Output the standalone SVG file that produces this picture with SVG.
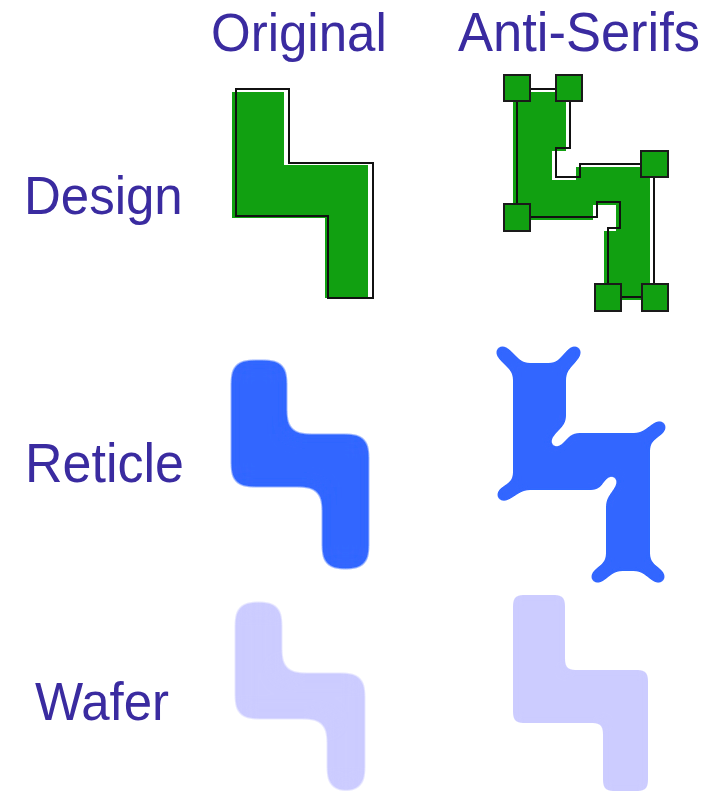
<svg xmlns="http://www.w3.org/2000/svg" width="716" height="803" viewBox="0 0 716 803">
  <style>
    .label { font-family: "Liberation Sans", Arial, sans-serif; font-size: 51px; fill: #3a2ba0; }
    .design-fill { fill: #11a011; }
    .design-line { fill: none; stroke: #111; stroke-width: 2; stroke-linejoin: miter; }
    .serif { fill: #11a011; stroke: #1a1a1a; stroke-width: 2; }
    .reticle { fill: #3366ff; }
    .reticle-ear { stroke: #3366ff; stroke-width: 14; stroke-linecap: round; fill: none; }
    .bite { stroke: #000; stroke-width: 12; stroke-linecap: round; fill: none; }
    .wafer { fill: #ccccff; }
  </style>
  <defs>
    <!-- blur + alpha threshold: rounds the printed shapes -->
    <filter id="soft10" filterUnits="userSpaceOnUse" x="0" y="0" width="716" height="803">
      <feGaussianBlur stdDeviation="10"/>
      <feComponentTransfer><feFuncA type="linear" slope="12" intercept="-5.5"/></feComponentTransfer>
    </filter>
    <filter id="soft5" filterUnits="userSpaceOnUse" x="0" y="0" width="716" height="803">
      <feGaussianBlur stdDeviation="5"/>
      <feComponentTransfer><feFuncA type="linear" slope="12" intercept="-5.5"/></feComponentTransfer>
    </filter>
    <filter id="soft4" filterUnits="userSpaceOnUse" x="0" y="0" width="716" height="803">
      <feGaussianBlur stdDeviation="4"/>
      <feComponentTransfer><feFuncA type="linear" slope="12" intercept="-5.5"/></feComponentTransfer>
    </filter>
    <!-- inward bites at the two concave corners of the anti-serif reticle -->
    <mask id="reticle-bites" maskUnits="userSpaceOnUse" x="0" y="0" width="716" height="803">
      <rect width="716" height="803" fill="#fff"/>
      <line class="bite" x1="568" y1="429" x2="556" y2="442"/>
      <line class="bite" x1="603" y1="494" x2="612" y2="481"/>
    </mask>
  </defs>

  <rect width="716" height="803" fill="#ffffff"/>

  <!-- column and row headings -->
  <g id="labels">
    <text class="label" transform="translate(211,51) scale(1,1.05)">Original</text>
    <text class="label" transform="translate(458,51) scale(1,1.05)" style="font-size:52.5px">Anti-Serifs</text>
    <text class="label" transform="translate(24,214) scale(1,1.05)">Design</text>
    <text class="label" transform="translate(25,482) scale(1,1.05)" style="font-size:52px">Reticle</text>
    <text class="label" transform="translate(35,720) scale(1,1.05)" style="font-size:51px">Wafer</text>
  </g>

  <!-- design layout: plain polygon -->
  <g id="design-original">
    <path class="design-fill" d="M232,92 H284 V165 H368 V298 H325 V218 H232 Z"/>
    <path class="design-line" d="M236,89 H289 V163 H373 V298 H328 V216 H236 Z"/>
  </g>

  <!-- design layout with anti-serif squares at the corners -->
  <g id="design-antiserif">
    <path class="design-fill" transform="translate(-4,3)" d="M517,89 H570 V148 H556 V177 H580 V164 H654 V297 H608 V228 H620 V202 H597 V217 H517 Z"/>
    <path class="design-line" d="M517,89 H570 V148 H556 V177 H580 V164 H654 V297 H608 V228 H620 V202 H597 V217 H517 Z"/>
    <rect class="serif" x="504" y="75" width="26" height="26"/>
    <rect class="serif" x="556" y="75" width="26" height="26"/>
    <rect class="serif" x="641" y="151" width="27" height="26"/>
    <rect class="serif" x="504" y="204" width="26" height="27"/>
    <rect class="serif" x="595" y="284" width="26" height="27"/>
    <rect class="serif" x="642" y="284" width="26" height="27"/>
  </g>

  <!-- reticle: rounded copy of the plain layout -->
  <g id="reticle-original" filter="url(#soft10)">
    <path class="reticle" d="M231,360 H287 V434 H369 V569 H322 V487 H231 Z"/>
  </g>

  <!-- reticle with anti-serifs: corner ears and concave bites -->
  <g id="reticle-antiserif" filter="url(#soft4)">
    <g mask="url(#reticle-bites)">
      <path class="reticle" d="M513,363 H566 V433 H650 V571 H606 V490 H513 Z"/>
      <line class="reticle-ear" x1="519" y1="369" x2="502" y2="352"/>
      <line class="reticle-ear" x1="560" y1="369" x2="575" y2="352"/>
      <line class="reticle-ear" x1="644" y1="439" x2="660" y2="427"/>
      <line class="reticle-ear" x1="520" y1="484" x2="503" y2="495"/>
      <line class="reticle-ear" x1="612" y1="565" x2="597" y2="577"/>
      <line class="reticle-ear" x1="644" y1="565" x2="659" y2="577"/>
    </g>
  </g>

  <!-- wafer prints -->
  <g id="wafer-original" filter="url(#soft10)">
    <path class="wafer" d="M235,602 H282 V673 H365 V791 H327 V719 H235 Z"/>
  </g>
  <g id="wafer-antiserif" filter="url(#soft5)">
    <path class="wafer" d="M513,595 H565 V670 H648 V791 H603 V723 H513 Z"/>
  </g>
</svg>
